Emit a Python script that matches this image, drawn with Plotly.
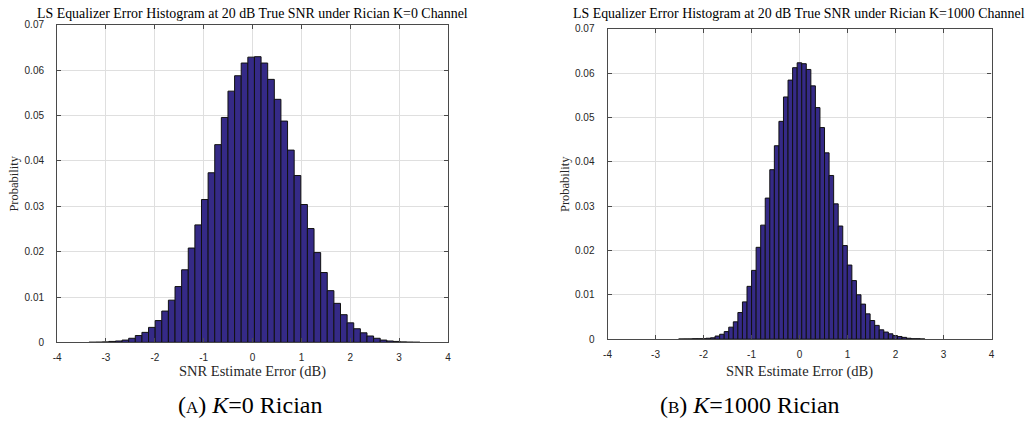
import numpy as np
import plotly.graph_objects as go

# ---- K=0 Rician channel: histogram bins and probabilities ----
k0_bin_width = 0.1355
k0_first_edge = 0.039 - 25 * k0_bin_width
k0_prob = [
    0.00003, 0.00005, 0.0001, 0.0002, 0.0003, 0.0005, 0.0009, 0.0015, 0.0022, 0.0033,
    0.0048, 0.0069, 0.0093, 0.0123, 0.0160, 0.0208, 0.0259, 0.0315, 0.0374, 0.0436,
    0.0496, 0.0554, 0.0588, 0.0616, 0.0629, 0.0630, 0.0616, 0.0580, 0.0536, 0.0488,
    0.0424, 0.0368, 0.0304, 0.0251, 0.0198, 0.0154, 0.0114, 0.0086, 0.0061, 0.0043,
    0.0030, 0.0021, 0.0014, 0.0009, 0.0005, 0.0003, 0.0002, 0.0001, 0.00005, 0.00003,
]

# ---- K=1000 Rician channel: histogram bins and probabilities ----
k1000_bin_width = 0.095
k1000_first_edge = -0.05 - 26 * k1000_bin_width
k1000_prob = [
    0.00003, 0.00005, 0.00005, 0.0001, 0.0001, 0.0001, 0.0002, 0.0003, 0.0007, 0.0011,
    0.0017, 0.0027, 0.0039, 0.0060, 0.0084, 0.0119, 0.0155, 0.0207, 0.0257, 0.0318,
    0.0382, 0.0436, 0.0491, 0.0546, 0.0584, 0.0612, 0.0623, 0.0621, 0.0608, 0.0571,
    0.0522, 0.0477, 0.0420, 0.0369, 0.0305, 0.0255, 0.0211, 0.0167, 0.0132, 0.0100,
    0.0079, 0.0057, 0.0042, 0.0031, 0.0021, 0.0016, 0.0012, 0.0008, 0.0006, 0.0004,
    0.0002, 0.0001, 0.0001, 0.00005,
]

x_tick_vals = [-4, -3, -2, -1, 0, 1, 2, 3, 4]
x_tick_text = ["-4", "-3", "-2", "-1", "0", "1", "2", "3", "4"]
y_tick_vals = [0, 0.01, 0.02, 0.03, 0.04, 0.05, 0.06, 0.07]
y_tick_text = ["0", "0.01", "0.02", "0.03", "0.04", "0.05", "0.06", "0.07"]

panel_titles = [
    "LS Equalizer Error Histogram at 20 dB True SNR under Rician K=0 Channel",
    "LS Equalizer Error Histogram at 20 dB True SNR under Rician K=1000 Channel",
]
x_label = "SNR Estimate Error (dB)"
y_label = "Probability"
captions = [
    "(<span style='font-size:17px'>A</span>) <i>K</i>=0 Rician",
    "(<span style='font-size:17px'>B</span>) <i>K</i>=1000 Rician",
]

W, H = 1031, 430
BAR_COLOR = "rgb(53,42,135)"
AXIS_COLOR = "#4a4a4a"
GRID_COLOR = "#dfdfdf"
SERIF = "Liberation Serif"
SANS = "Liberation Sans"


def bin_centers(first_edge, width, n):
    return first_edge + width * (np.arange(n) + 0.5)


fig = go.Figure()
fig.add_trace(go.Bar(
    x=bin_centers(k0_first_edge, k0_bin_width, len(k0_prob)), y=k0_prob,
    width=k0_bin_width, xaxis="x", yaxis="y",
    marker=dict(color=BAR_COLOR, line=dict(color="#111111", width=1)),
    showlegend=False, hoverinfo="x+y",
))
fig.add_trace(go.Bar(
    x=bin_centers(k1000_first_edge, k1000_bin_width, len(k1000_prob)), y=k1000_prob,
    width=k1000_bin_width, xaxis="x2", yaxis="y2",
    marker=dict(color=BAR_COLOR, line=dict(color="#111111", width=1)),
    showlegend=False, hoverinfo="x+y",
))


def x_axis(domain, anchor):
    return dict(
        domain=domain, anchor=anchor, range=[-4, 4],
        tickmode="array", tickvals=x_tick_vals, ticktext=x_tick_text,
        showline=True, linecolor=AXIS_COLOR, linewidth=1.2, mirror="ticks",
        ticks="inside", ticklen=4, tickcolor=AXIS_COLOR, tickwidth=1,
        showgrid=True, gridcolor=GRID_COLOR, gridwidth=1, zeroline=False,
        tickfont=dict(family=SANS, size=10, color="#262626"),
        ticklabelstandoff=6,
    )


def y_axis(domain, anchor):
    return dict(
        domain=domain, anchor=anchor, range=[0, 0.07],
        tickmode="array", tickvals=y_tick_vals, ticktext=y_tick_text,
        showline=True, linecolor=AXIS_COLOR, linewidth=1.2, mirror="ticks",
        ticks="inside", ticklen=4, tickcolor=AXIS_COLOR, tickwidth=1,
        showgrid=True, gridcolor=GRID_COLOR, gridwidth=1, zeroline=False,
        tickfont=dict(family=SANS, size=10, color="#262626"),
        ticklabelstandoff=10,
    )


# panel geometry in pixels: (left, right, top, bottom)
panels = [(53.5, 447.0, 19.5, 346.0), (607.7, 994.3, 23.3, 342.7)]

layout = dict(
    width=W, height=H, margin=dict(l=0, r=0, t=0, b=0),
    paper_bgcolor="white", plot_bgcolor="white", barmode="overlay",
)
axes_names = [("xaxis", "yaxis", "x", "y"), ("xaxis2", "yaxis2", "x2", "y2")]
for (l, r, t, b), (xa, ya, xn, yn) in zip(panels, axes_names):
    layout[xa] = x_axis([l / W, r / W], yn)
    layout[ya] = y_axis([1 - b / H, 1 - t / H], xn)
fig.update_layout(**layout)

annotations = []
caption_centers = [248, 751]
title_centers = [250.5, 800.0]
ylabel_x = [10, 565]
for i, (l, r, t, b) in enumerate(panels):
    cx = (l + r) / 2
    annotations.append(dict(
        text=panel_titles[i], x=title_centers[i] / W, y=1 - 8 / H, xref="paper", yref="paper",
        xanchor="center", yanchor="middle", showarrow=False,
        font=dict(family=SERIF, size=13.9, color="black"),
    ))
    annotations.append(dict(
        text=x_label, x=cx / W, y=1 - 376 / H, xref="paper", yref="paper",
        xanchor="center", yanchor="middle", showarrow=False,
        font=dict(family=SERIF, size=14.5, color="#262626"),
    ))
    annotations.append(dict(
        text=y_label, x=ylabel_x[i] / W, y=1 - ((t + b) / 2) / H, xref="paper", yref="paper",
        xanchor="center", yanchor="middle", showarrow=False, textangle=-90,
        font=dict(family=SERIF, size=12.5, color="#262626"),
    ))
    annotations.append(dict(
        text=captions[i], x=caption_centers[i] / W, y=1 - 410 / H, xref="paper", yref="paper",
        xanchor="center", yanchor="middle", showarrow=False,
        font=dict(family=SERIF, size=24, color="black"),
    ))
fig.update_layout(annotations=annotations)

fig.write_html("out.html")
